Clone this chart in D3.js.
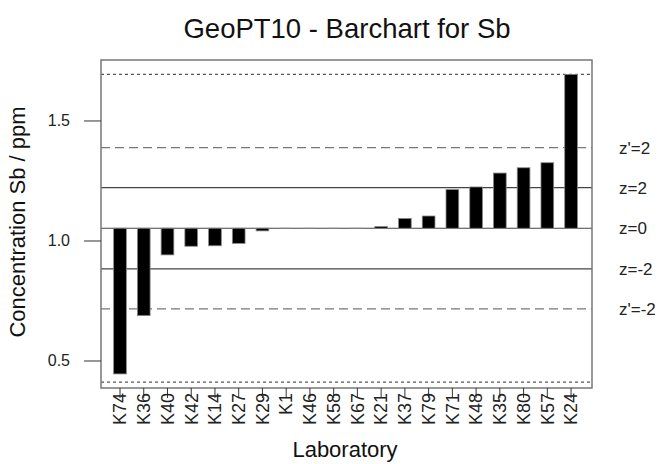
<!DOCTYPE html>
<html><head><meta charset="utf-8">
<script src="https://cdn.jsdelivr.net/npm/d3@7"></script>
<style>body{margin:0;background:#fff}svg{display:block}text{font-family:"Liberation Sans",Arial,sans-serif}</style>
</head><body><svg id="c" width="664" height="464"></svg>
<script>
const labs = ["K74","K36","K40","K42","K14","K27","K29","K1","K46","K58","K67","K21","K37","K79","K71","K48","K35","K80","K57","K24"];
const values = [0.444,0.687,0.940,0.976,0.978,0.988,1.040,1.050,1.050,1.050,1.050,1.058,1.092,1.102,1.212,1.223,1.281,1.303,1.324,1.692];
const assigned = 1.051;
const refVals = [1.692, 1.387, 1.220, 1.051, 0.882, 0.715, 0.410];
const refStyle = ["dot","dash","solid","solid","solid","dash","dot"];
const refLabels = ["", "z'=2", "z=2", "z=0", "z=-2", "z'=-2", ""];
const yTicks = [0.5, 1.0, 1.5];

const svg = d3.select("#c");
const L = 101, R = 592, T = 60, B = 388;
const y = d3.scaleLinear().domain([0.3854, 1.752]).range([B, T]);
const x = d3.scaleBand().domain(labs).range([108.13, 582.93]).paddingInner(0.465).paddingOuter(0.2325);

// reference lines
const dash = {solid:null, dash:"9,5", dot:"3,3"};
const col = {solid:"#444", dash:"#777", dot:"#555"};
svg.append("g").selectAll("line").data(refVals).join("line")
  .attr("x1", L).attr("x2", R)
  .attr("y1", d => y(d)).attr("y2", d => y(d))
  .attr("stroke", (d,i) => col[refStyle[i]])
  .attr("stroke-width", 1.2)
  .attr("stroke-dasharray", (d,i) => dash[refStyle[i]]);

// bars
svg.append("g").selectAll("rect").data(values).join("rect")
  .attr("x", (d,i) => x(labs[i]))
  .attr("width", x.bandwidth())
  .attr("y", d => y(Math.max(d, assigned)))
  .attr("height", d => Math.abs(y(d) - y(assigned)))
  .attr("fill", "#000").attr("stroke", "#888").attr("stroke-width", 0.8);

// box
svg.append("rect").attr("x", L).attr("y", T).attr("width", R - L).attr("height", B - T)
  .attr("fill", "none").attr("stroke", "#777").attr("stroke-width", 1.5);

// y axis
const ya = svg.append("g").attr("transform", `translate(${L},0)`)
  .call(d3.axisLeft(y).tickValues(yTicks).tickFormat(d3.format(".1f")).tickSize(17).tickPadding(14));
ya.select(".domain").remove();
ya.selectAll("line").attr("stroke", "#333");
ya.selectAll("text").attr("font-size", 16).attr("fill", "#222").attr("font-family", "Liberation Sans, Arial, sans-serif");

// x axis
const xa = svg.append("g").attr("transform", `translate(0,${B})`)
  .call(d3.axisBottom(x).tickSize(10));
xa.select(".domain").remove();
xa.selectAll("line").attr("stroke", "#333");
xa.selectAll("text").attr("font-size", 18).attr("fill", "#222")
  .attr("font-family", "Liberation Sans, Arial, sans-serif")
  .attr("transform", "rotate(-90)").attr("x", -5).attr("y", 0).attr("dy", "0.35em")
  .attr("text-anchor", "end");

// right labels
svg.append("g").selectAll("text").data(refVals.filter((d,i)=>refLabels[i])).join("text")
  .attr("x", 619).attr("y", d => y(d)).attr("dy", "0.35em")
  .attr("font-size", 17).attr("fill", "#222")
  .text((d,i) => refLabels.filter(s=>s)[i]);

// titles
svg.append("text").attr("x", 347).attr("y", 38).attr("text-anchor", "middle")
  .attr("font-size", 27.5).attr("fill", "#111").text("GeoPT10 - Barchart for Sb");
svg.append("text").attr("x", 345).attr("y", 457).attr("text-anchor", "middle")
  .attr("font-size", 22).attr("fill", "#111").text("Laboratory");
svg.append("text").attr("transform", "translate(25,222) rotate(-90)").attr("text-anchor", "middle")
  .attr("font-size", 22).attr("fill", "#111").text("Concentration Sb / ppm");
</script></body></html>
